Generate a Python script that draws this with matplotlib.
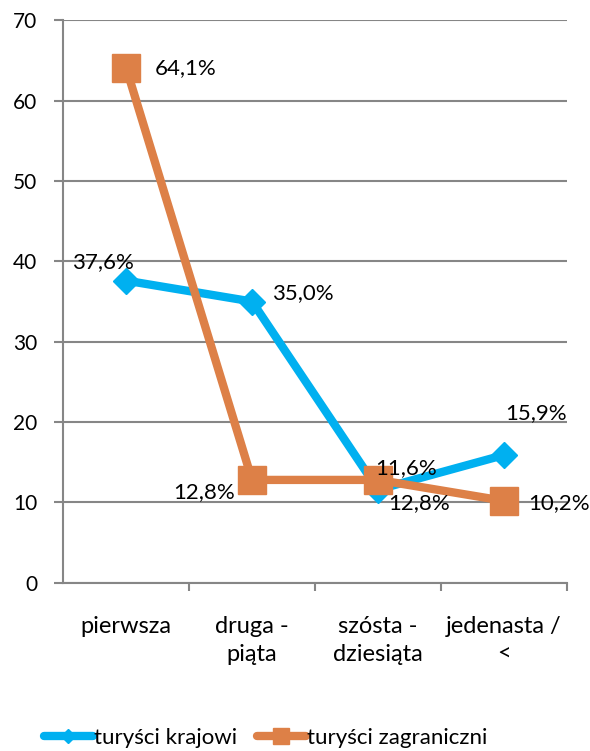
import numpy as np
import matplotlib.pyplot as plt
from matplotlib.ticker import FixedLocator

plt.rcParams['font.family'] = ['Lato', 'DejaVu Sans']

categories = ['pierwsza', 'druga -\npiąta', 'szósta -\ndziesiąta', 'jedenasta /\n<']
krajowi = [37.6, 35.0, 11.6, 15.9]
zagraniczni = [64.1, 12.8, 12.8, 10.2]
labels_kraj = ['37,6%', '35,0%', '11,6%', '15,9%']
labels_zagr = ['64,1%', '12,8%', '12,8%', '10,2%']

blue = '#00B0F0'
orange = '#DD8047'
grid_col = '#868686'
fs = 17

fig = plt.figure(figsize=(5.9, 7.51), dpi=100)
ax = fig.add_axes([0.107, 0.224, 0.854, 0.749])

x = np.arange(len(categories))
ax.plot(x, krajowi, color=blue, lw=6, marker='D', markersize=13,
        label='turyści krajowi', solid_capstyle='round', zorder=3)
ax.plot(x, zagraniczni, color=orange, lw=6, marker='s', markersize=20,
        label='turyści zagraniczni', solid_capstyle='round', zorder=3)

# data labels (offsets in data units from the point)
off_k = [(-0.43, 2.3), (0.16, 1.1), (-0.02, 2.7), (0.01, 5.2)]
off_z = [(0.23, 0.0), (-0.63, -1.5), (0.08, -2.85), (0.19, -0.25)]
for i in range(len(x)):
    ax.text(x[i] + off_k[i][0], krajowi[i] + off_k[i][1], labels_kraj[i],
            fontsize=fs - 1, ha='left', va='center', zorder=4)
    ax.text(x[i] + off_z[i][0], zagraniczni[i] + off_z[i][1], labels_zagr[i],
            fontsize=fs - 1, ha='left', va='center', zorder=4)

ax.set_xlim(-0.5, 3.5)
ax.set_ylim(0, 70)
ax.set_yticks(np.arange(0, 71, 10))
ax.set_xticks(x)
ax.set_xticklabels(categories, fontsize=fs, linespacing=1.4)
ax.xaxis.set_minor_locator(FixedLocator([0.5, 1.5, 2.5, 3.5]))
ax.tick_params(axis='x', which='major', length=0, pad=24)
ax.tick_params(axis='x', which='minor', length=6, color=grid_col, width=1.5)
ax.tick_params(axis='y', length=6.5, color=grid_col, width=1.5, labelsize=15, pad=12)

ax.grid(axis='y', color=grid_col, lw=1.5)
ax.set_axisbelow(True)
for s in ['top', 'right']:
    ax.spines[s].set_visible(False)
for s in ['left', 'bottom']:
    ax.spines[s].set_color(grid_col)
    ax.spines[s].set_linewidth(1.5)

fig.legend(loc='center', bbox_to_anchor=(0.45, 0.017), ncol=2, frameon=False,
           fontsize=16, handlelength=2.2, handletextpad=0.05, columnspacing=0.9,
           markerscale=0.55)

fig.savefig('out.png', dpi=100)
